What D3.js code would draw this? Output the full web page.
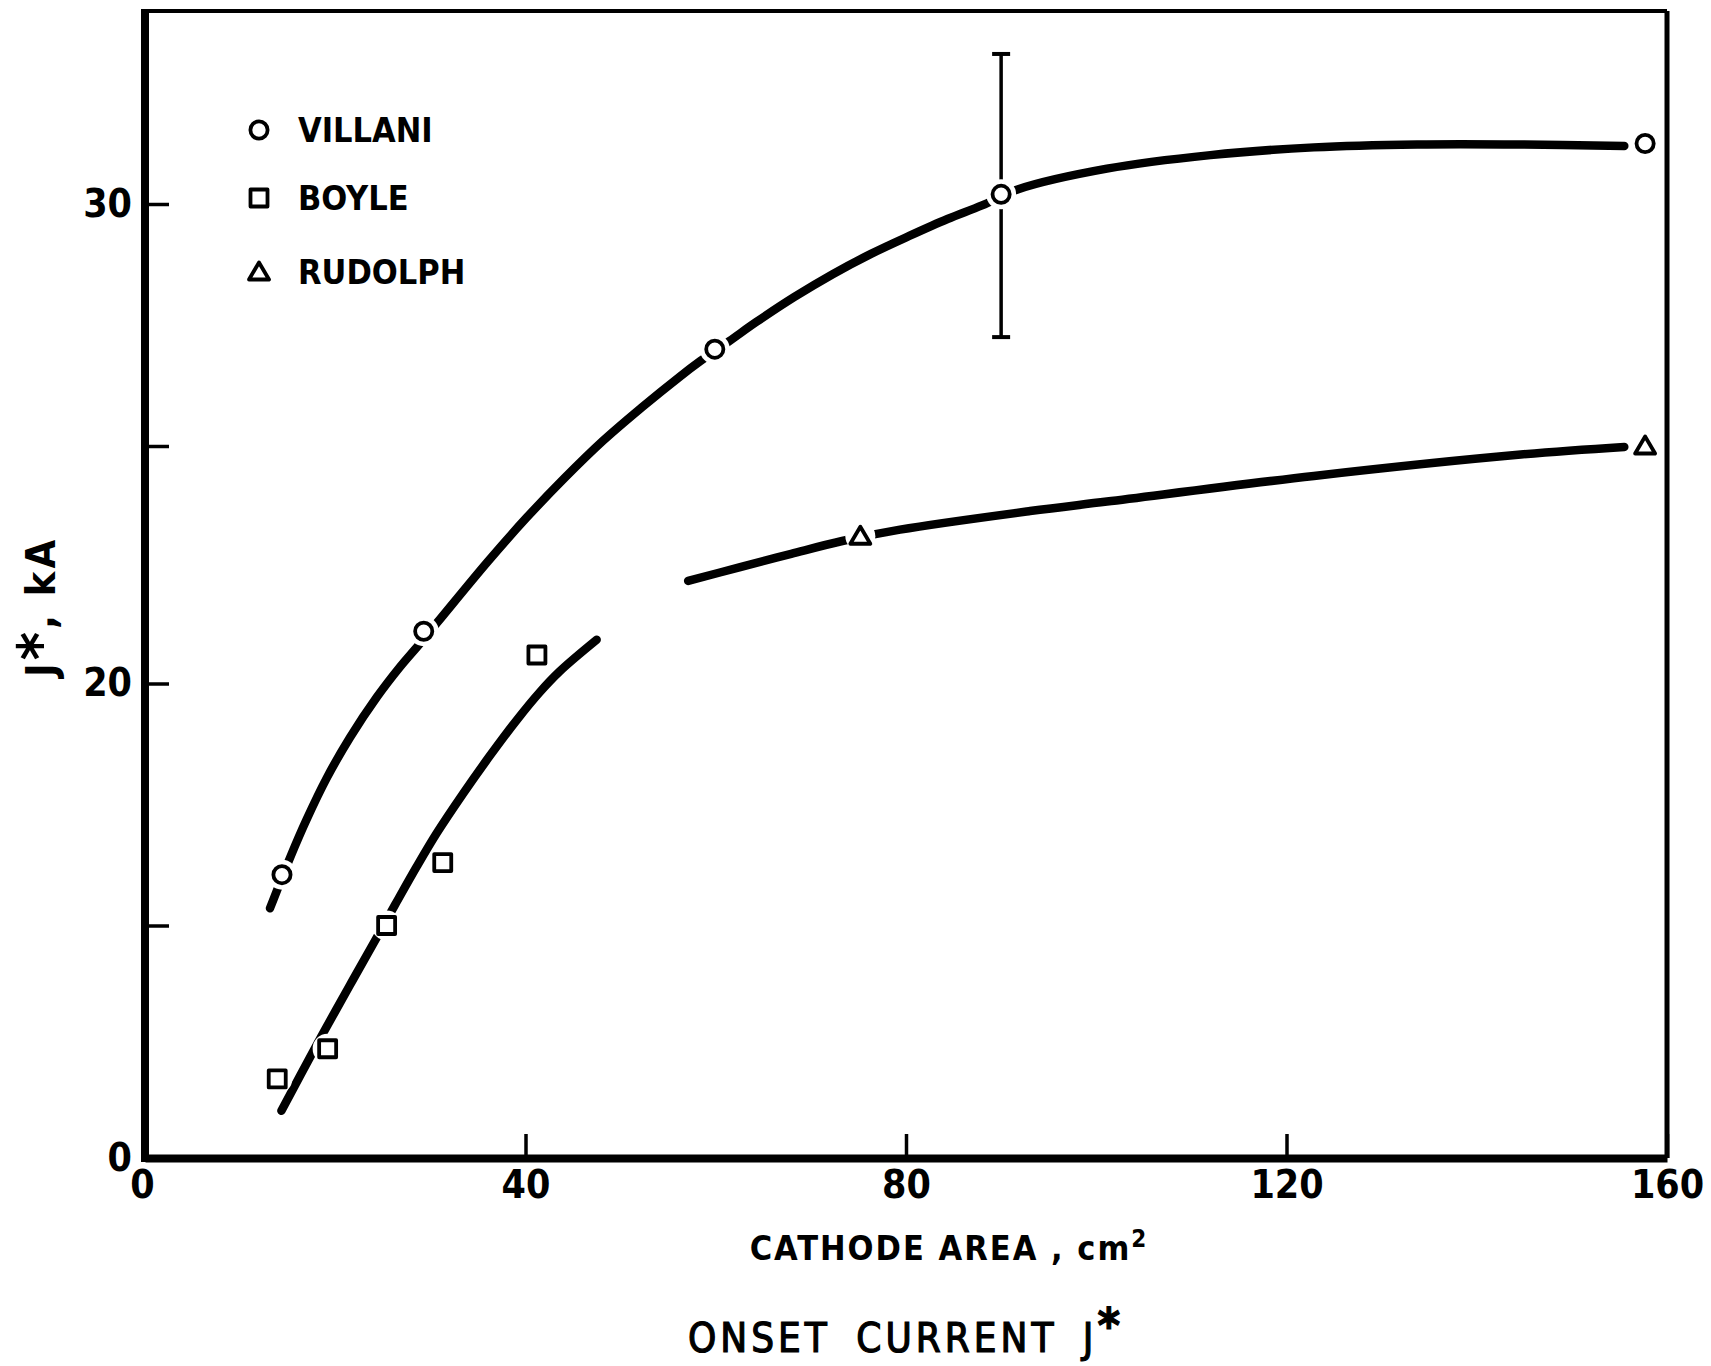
<!DOCTYPE html>
<html>
<head>
<meta charset="utf-8">
<script src="https://cdn.jsdelivr.net/npm/d3@7"></script>
<style>
  body { margin: 0; background: #fff; }
  text { font-family: "DejaVu Sans Condensed", "DejaVu Sans", sans-serif; font-stretch: condensed; fill: #000; }
</style>
</head>
<body>
<div id="chart"></div>
<script>
var width = 1711,
    height = 1366;

// axis ticks as printed on the figure (the y axis is not uniform)
var xTickValues = [0, 40, 80, 120, 160],
    yTickValues = [0, 10, 20, 25, 30],
    yTickLabels = ['0', '', '20', '', '30'];

// measured points
var villaniX = [14.4, 29.3, 59.9, 90.0, 157.7],
    villaniY = [12.1, 21.1, 27.0, 30.2, 31.25],
    boyleX = [13.9, 19.2, 25.4, 31.3, 41.2],
    boyleY = [3.4, 4.7, 10.0, 12.6, 20.6],
    rudolphX = [75.2, 157.7],
    rudolphY = [23.1, 25.0];

// error bar on the Villani point at 90 cm2
var errX = 90.0, errLow = 27.25, errHigh = 33.1;

// hand drawn curves
var villaniCurve = [
    [13.14, 10.71], [15.32, 12.87], [17.0, 14.39], [19.1, 16.09], [21.55, 17.77],
    [24.36, 19.43], [26.81, 20.35], [28.73, 20.8], [30.83, 21.31], [36.09, 22.58],
    [40.11, 23.49], [44.13, 24.33], [48.16, 25.11], [52.18, 25.79], [56.2, 26.43],
    [58.42, 26.76], [61.44, 27.17], [64.25, 27.56], [68.27, 28.08], [72.29, 28.55],
    [76.32, 28.97], [80.34, 29.34], [84.36, 29.69], [87.99, 29.97], [91.88, 30.31],
    [101.12, 30.73], [112.0, 31.01], [122.88, 31.17], [133.75, 31.23], [144.63, 31.23],
    [155.51, 31.2]
];
var boyleCurve = [
    [14.34, 2.03], [16.29, 3.53], [18.85, 5.46], [21.55, 7.44], [24.1, 9.29],
    [26.28, 10.85], [28.56, 12.43], [30.66, 13.81], [33.46, 15.46], [36.27, 17.02],
    [39.08, 18.49], [41.52, 19.65], [43.62, 20.26], [47.48, 20.92]
];
var rudolphCurve = [
    [57.1, 22.16], [62.57, 22.45], [67.93, 22.73], [73.29, 23.0], [79.37, 23.24],
    [93.04, 23.63], [101.12, 23.83], [122.88, 24.37], [144.63, 24.82], [155.51, 24.98]
];

var legendNames = ['VILLANI', 'BOYLE', 'RUDOLPH'],
    legendShapes = ['circle', 'square', 'triangle'];

var svg = d3.select('#chart').append('svg')
    .attr('width', width)
    .attr('height', height);

svg.append('rect').attr('width', width).attr('height', height).attr('fill', '#fff');

var x = d3.scaleLinear().domain([0, 160]).range([145, 1667]),
    y = d3.scaleLinear().domain(yTickValues).range([1158, 925.5, 683.5, 446, 204]),
    plotTop = 11,
    legendRows = [130, 198, 272];

// frame top and right (thinner)
svg.append('line')
    .attr('x1', x(0)).attr('x2', x(160))
    .attr('y1', plotTop).attr('y2', plotTop)
    .style('stroke', '#000').style('stroke-width', 4);
svg.append('line')
    .attr('x1', x(160)).attr('x2', x(160))
    .attr('y1', plotTop).attr('y2', y(0))
    .style('stroke', '#000').style('stroke-width', 5);

var xAxis = d3.axisBottom(x)
    .tickValues(xTickValues)
    .tickSizeInner(-24)
    .tickSizeOuter(0)
    .tickPadding(40)
    .tickFormat(d3.format('d'));

var yAxis = d3.axisLeft(y)
    .tickValues(yTickValues)
    .tickSizeInner(-24)
    .tickSizeOuter(0)
    .tickPadding(13)
    .tickFormat(function (d, i) { return yTickLabels[i]; });

var gx = svg.append('g')
    .attr('transform', 'translate(0,' + y(0) + ')')
    .call(xAxis);
var gy = svg.append('g')
    .attr('transform', 'translate(' + x(0) + ',0)')
    .call(yAxis);

// the y domain only reaches 30, stretch the left axis up to the frame top
gy.select('.domain').remove();
gy.append('line')
    .attr('x1', 0).attr('x2', 0)
    .attr('y1', plotTop - 2).attr('y2', y(0) + 4)
    .style('stroke', '#000').style('stroke-width', 8);
gx.select('.domain')
    .style('stroke', '#000').style('stroke-width', 8);

[gx, gy].forEach(function (g) {
    g.selectAll('.tick line').style('stroke', '#000').style('stroke-width', 3.5);
    g.selectAll('.tick text')
        .style('font-size', '39px')
        .style('font-weight', 'bold')
        .style('fill', '#000');
});
gx.selectAll('.tick text').attr('dy', 0).attr('y', 40);
gx.selectAll('.tick text').filter(function (d) { return d === 0; }).attr('dx', -3);

// curves
var line = d3.line()
    .x(function (d) { return x(d[0]); })
    .y(function (d) { return y(d[1]); })
    .curve(d3.curveCatmullRom.alpha(0.5));

[villaniCurve, boyleCurve, rudolphCurve].forEach(function (c) {
    svg.append('path')
        .datum(c)
        .attr('d', line)
        .style('fill', 'none')
        .style('stroke', '#000')
        .style('stroke-width', 8.5)
        .style('stroke-linecap', 'round')
        .style('stroke-linejoin', 'round');
});

// error bar
svg.append('line')
    .attr('x1', x(errX)).attr('x2', x(errX))
    .attr('y1', y(errLow)).attr('y2', y(errHigh))
    .style('stroke', '#000').style('stroke-width', 3.5);
[errLow, errHigh].forEach(function (v) {
    svg.append('line')
        .attr('x1', x(errX) - 9).attr('x2', x(errX) + 9)
        .attr('y1', y(v)).attr('y2', y(v))
        .style('stroke', '#000').style('stroke-width', 4);
});

function drawMarker(shape, cx, cy, halo) {
    if (halo) {
        svg.append('circle')
            .attr('cx', cx).attr('cy', cy).attr('r', halo)
            .style('fill', '#fff');
    }
    var m;
    if (shape === 'circle') {
        m = svg.append('circle').attr('cx', cx).attr('cy', cy).attr('r', 8.6);
    } else if (shape === 'square') {
        m = svg.append('rect')
            .attr('x', cx - 8.5).attr('y', cy - 8.5)
            .attr('width', 17).attr('height', 17);
    } else {
        m = svg.append('path')
            .attr('d', 'M' + cx + ',' + (cy - 9.5) +
                'L' + (cx + 10) + ',' + (cy + 7.5) +
                'L' + (cx - 10) + ',' + (cy + 7.5) + 'Z');
    }
    m.style('fill', '#fff')
        .style('stroke', '#000')
        .style('stroke-width', 3.8)
        .style('stroke-linejoin', 'round');
}

villaniX.forEach(function (v, i) { drawMarker('circle', x(v), y(villaniY[i]), 15); });
boyleX.forEach(function (v, i) { drawMarker('square', x(v), y(boyleY[i]), 15); });
rudolphX.forEach(function (v, i) { drawMarker('triangle', x(v), y(rudolphY[i]), 15); });

// legend
legendNames.forEach(function (n, i) {
    var ly = legendRows[i];
    drawMarker(legendShapes[i], 259, ly, 0);
    svg.append('text')
        .attr('x', 298)
        .attr('y', ly + 12)
        .style('font-size', '34px')
        .style('font-weight', 'bold')
        .text(n);
});

// axis titles
var xt = svg.append('text')
    .attr('x', 949)
    .attr('y', 1260)
    .attr('text-anchor', 'middle')
    .style('font-size', '34px')
    .style('font-weight', 'bold')
    .style('letter-spacing', '2px');
xt.append('tspan').text('CATHODE AREA , cm');
xt.append('tspan').attr('dy', -13).style('font-size', '24px').text('2');

var yt = svg.append('text')
    .attr('transform', 'translate(55,607) rotate(-90)')
    .attr('text-anchor', 'middle')
    .style('font-size', '41px')
    .style('font-weight', 'bold')
    .style('letter-spacing', '3px');
yt.append('tspan').text('J');
yt.append('tspan').attr('dy', 6).style('font-size', '60px').text('*');
yt.append('tspan').attr('dy', -6).text(', kA');

var title = svg.append('text')
    .attr('x', 906)
    .attr('y', 1352)
    .attr('text-anchor', 'middle')
    .style('font-size', '40px')
    .style('letter-spacing', '4px')
    .style('word-spacing', '10px')
    .style('stroke', '#000')
    .style('stroke-width', 1.2);
title.append('tspan').text('ONSET CURRENT J');
title.append('tspan').attr('dy', -10).style('font-size', '48px').style('font-weight', 'bold').text('*');
</script>
</body>
</html>
